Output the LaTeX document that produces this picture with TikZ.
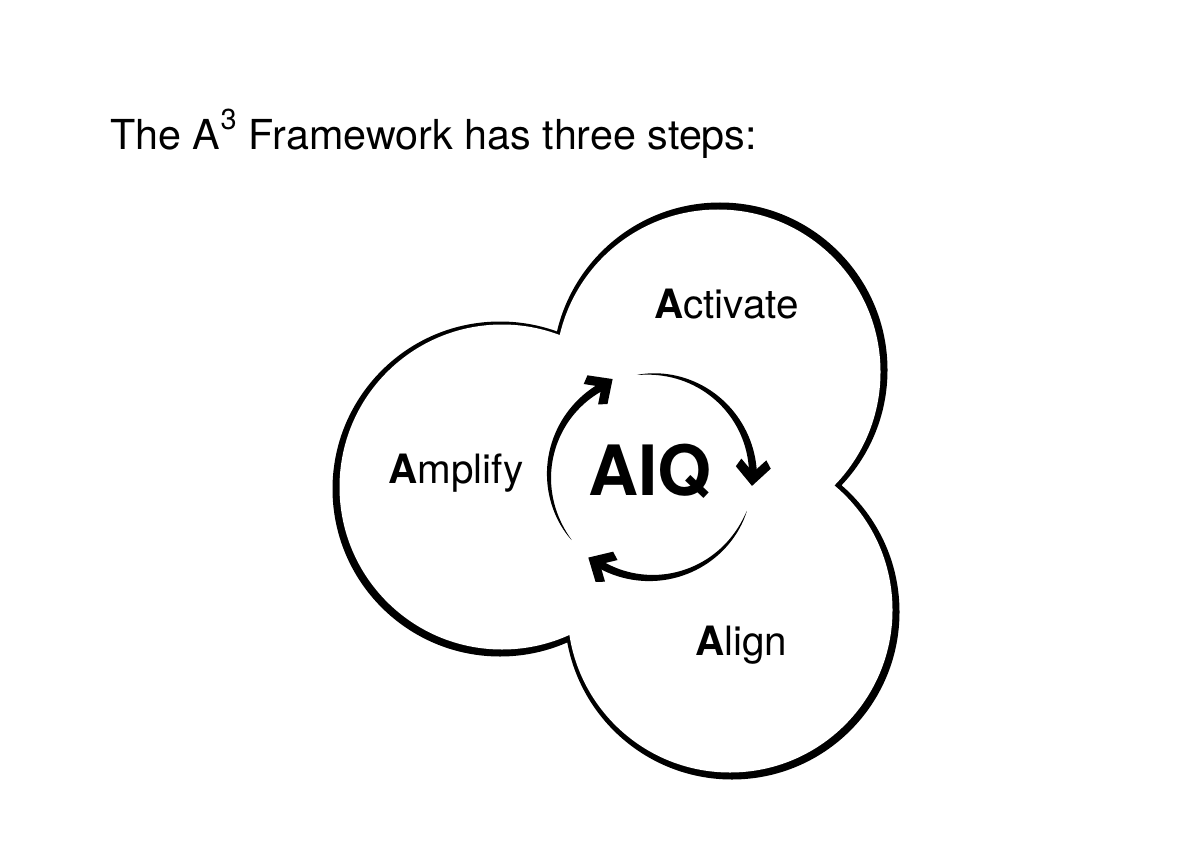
\documentclass[tikz,border=0pt]{standalone}
\usepackage{fontspec}
\setmainfont{TeX Gyre Heros}

\begin{document}
\begin{tikzpicture}[x=1cm, y=1cm,
    lbl/.style={anchor=base west, inner sep=0pt, font=\fontsize{23}{27}\selectfont}]

  \useasboundingbox[fill=white] (0,0) rectangle (24,17.28);

  \newcommand\Rcl{3.3}  % lobe radius
  \newcommand\Rcy{2.04} % cycle radius
  %% tapered arc from #1 to #2 (degrees)
  \newcommand\shaft[2]{\fill plot[domain=#1:#2, samples=40] (\x:{\Rcy+0.08*((\x-#1)/(#2-#1))^0.7})
    -- plot[domain=#2:#1, samples=40] (\x:{\Rcy-0.08*((\x-#1)/(#2-#1))^0.7}) -- cycle;}
  %% chevron head, notch at angle #1, pointing to #2
  \newcommand\dart[2]{\fill[shift={(#1:\Rcy)}, rotate=#2] (0.27,0) -- (-0.10,0.35)
    -- (-0.26,0.25) -- (0,0) -- (-0.26,-0.25) -- (-0.10,-0.35) -- cycle;}

  %% title
  \node[lbl, font=\fontsize{23.5}{28}\selectfont] (title) at (2.2,14.28)
    {The A\raisebox{0.12em}{\textsuperscript{3}} Framework has three steps:};

  %% three lobes: black discs, white discs on top
  \fill[black] (14.40,9.88) circle (\Rcl+0.05) (10.00,7.50) circle (\Rcl+0.05)
    (14.64,5.04) circle (\Rcl+0.05);
  \fill[white] (14.36,9.84) circle (\Rcl-0.05) (10.04,7.54) circle (\Rcl-0.05)
    (14.60,5.08) circle (\Rcl-0.05);

  \node[lbl] (activate) at (13.08,10.92) {\textbf{A}ctivate};
  \node[lbl] (amplify) at (7.76,7.62) {\textbf{A}mplify};
  \node[lbl] (align) at (13.90,4.18) {\textbf{A}lign};

  %% the cycle
  \node[lbl, font=\fontsize{39.5}{44}\selectfont\bfseries] (aiq) at (11.76,7.38) {AIQ};

  \begin{scope}[shift={(13.02,7.76)}]
    \shaft{219}{117} \dart{119}{35}   % to Activate
    \shaft{98}{0}    \dart{2}{-94}    % to Align
    \shaft{-20}{-122} \dart{-120}{150} % to Amplify
  \end{scope}
\end{tikzpicture}
\end{document}
